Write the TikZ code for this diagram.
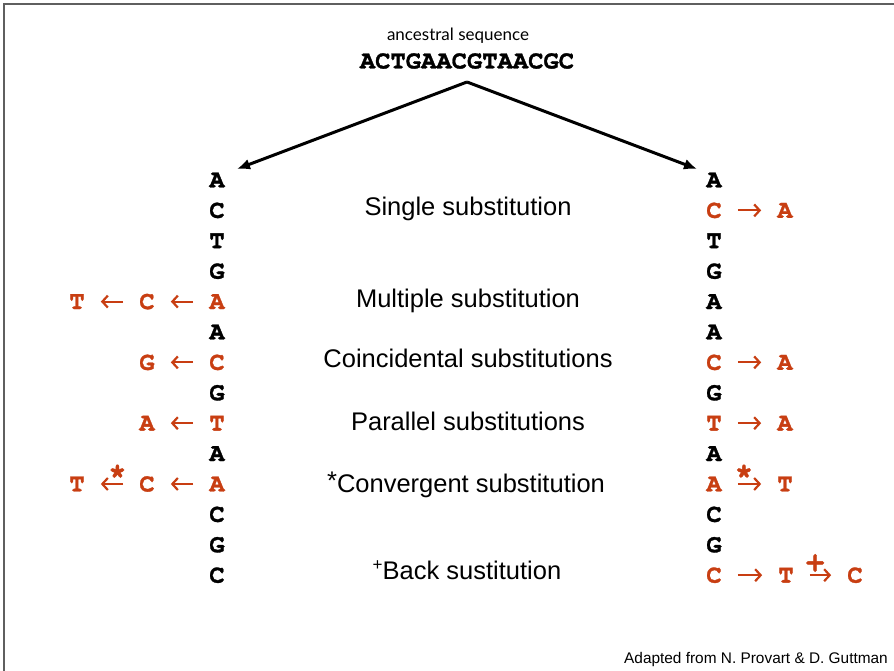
\documentclass[tikz,border=0pt]{standalone}
\usepackage{fontspec}
\setmainfont{Liberation Sans}
\newfontfamily\basefont{texgyrecursor}[Extension=.otf, UprightFont=*-regular, BoldFont=*-bold, BoldFeatures={FakeBold=1.2}]
\newfontfamily\headfont{Lato}
\usetikzlibrary{arrows.meta}
\definecolor{subred}{RGB}{200,62,18}
\definecolor{framegray}{RGB}{95,95,95}
\tikzset{
  base/.style={inner sep=0pt, font=\basefont\bfseries\fontsize{25.5}{30}\selectfont},
  blk/.style={base, text=black},
  chg/.style={base, text=subred},
  lbl/.style={inner sep=0pt, text height=18.3pt, text depth=0pt,
    font=\fontsize{25.5}{30}\selectfont},
  subarr/.style={draw=subred, line width=2pt, shorten >=16pt, shorten <=16pt,
    -{Straight Barb[length=5.5pt,width=12pt,line width=2.2pt]}},
  tag/.style={inner sep=0pt, font=\basefont\bfseries\fontsize{31}{34}\selectfont,
    text=subred, anchor=base, pos=0.4},
  split/.style={line width=3pt, -{Latex[length=13pt,width=11pt]}},
}
\begin{document}
\begin{tikzpicture}[x=1pt,y=-1pt]
\useasboundingbox (0,0) rectangle (894,671);
\fill[white] (0,0) rectangle (894,671);
% slide edge
\draw[framegray, line width=2pt] (4,671) -- (4,4) -- (894,4);

% ancestral sequence
\node[inner sep=0pt, font=\headfont\fontsize{17}{20}\selectfont] (title) at (458,36) {ancestral sequence};
\node[blk] (anc) at (467,61) {ACTGAACGTAACGC};
\coordinate (apex) at (467,82);

% left lineage
\node[blk] (l0)  at (217,180.0) {A};
\node[blk] (l1)  at (217,210.4) {C};
\node[blk] (l2)  at (217,240.8) {T};
\node[blk] (l3)  at (217,271.2) {G};
\node[chg] (l4)  at (217,301.6) {A};
\node[blk] (l5)  at (217,332.0) {A};
\node[chg] (l6)  at (217,362.4) {C};
\node[blk] (l7)  at (217,392.8) {G};
\node[chg] (l8)  at (217,423.2) {T};
\node[blk] (l9)  at (217,453.6) {A};
\node[chg] (l10) at (217,484.0) {A};
\node[blk] (l11) at (217,514.4) {C};
\node[blk] (l12) at (217,544.8) {G};
\node[blk] (l13) at (217,575.2) {C};

% right lineage
\node[blk] (r0)  at (714,180.0) {A};
\node[chg] (r1)  at (714,210.4) {C};
\node[blk] (r2)  at (714,240.8) {T};
\node[blk] (r3)  at (714,271.2) {G};
\node[blk] (r4)  at (714,301.6) {A};
\node[blk] (r5)  at (714,332.0) {A};
\node[chg] (r6)  at (714,362.4) {C};
\node[blk] (r7)  at (714,392.8) {G};
\node[chg] (r8)  at (714,423.2) {T};
\node[blk] (r9)  at (714,453.6) {A};
\node[chg] (r10) at (714,484.0) {A};
\node[blk] (r11) at (714,514.4) {C};
\node[blk] (r12) at (714,544.8) {G};
\node[chg] (r13) at (714,575.2) {C};

% split into two lineages
\coordinate (ltip) at (237,169);
\coordinate (rtip) at (697,169);
\draw[split] (apex) -- (ltip);
\draw[split] (apex) -- (rtip);

% substitutions on the left
\node[chg] (l4a) at (147,301.6) {C};
\node[chg] (l4b) at (77,301.6) {T};
\draw[subarr] (l4) -- (l4a);
\draw[subarr] (l4a) -- (l4b);
\node[chg] (l6a) at (147,362.4) {G};
\draw[subarr] (l6) -- (l6a);
\node[chg] (l8a) at (147,423.2) {A};
\draw[subarr] (l8) -- (l8a);
\node[chg] (l10a) at (147,484.0) {C};
\node[chg] (l10b) at (77,484.0) {T};
\draw[subarr] (l10) -- (l10a);
\draw[subarr] (l10a) -- node[tag] (lstar) {*} (l10b);

% substitutions on the right
\node[chg] (r1a) at (785,210.4) {A};
\draw[subarr] (r1) -- (r1a);
\node[chg] (r6a) at (785,362.4) {A};
\draw[subarr] (r6) -- (r6a);
\node[chg] (r8a) at (785,423.2) {A};
\draw[subarr] (r8) -- (r8a);
\node[chg] (r10a) at (785,484.0) {T};
\draw[subarr] (r10) -- node[tag] (rstar) {*} (r10a);
\node[chg] (r13a) at (786,575.2) {T};
\node[chg] (r13b) at (855,575.2) {C};
\draw[subarr] (r13) -- (r13a);
\draw[subarr] (r13a) -- node[tag, yshift=4.5pt] (rplus) {+} (r13b);

% substitution types
\node[lbl] (single) at (468,206) {Single substitution};
\node[lbl] (multi)  at (468,298) {Multiple substitution};
\node[lbl] (coinc)  at (468,358) {Coincidental substitutions};
\node[lbl] (para)   at (468,421) {Parallel substitutions};
\node[lbl] (conv)   at (466,483) {\raisebox{3pt}{*}Convergent substitution};
\node[lbl] (back)   at (467,570) {\raisebox{9pt}{\fontsize{17}{20}\selectfont +}Back sustitution};

% credit
\node[inner sep=0pt, anchor=east, font=\fontsize{15.4}{18}\selectfont] (credit) at (888,660) {Adapted from N. Provart \& D. Guttman};
\end{tikzpicture}
\end{document}
